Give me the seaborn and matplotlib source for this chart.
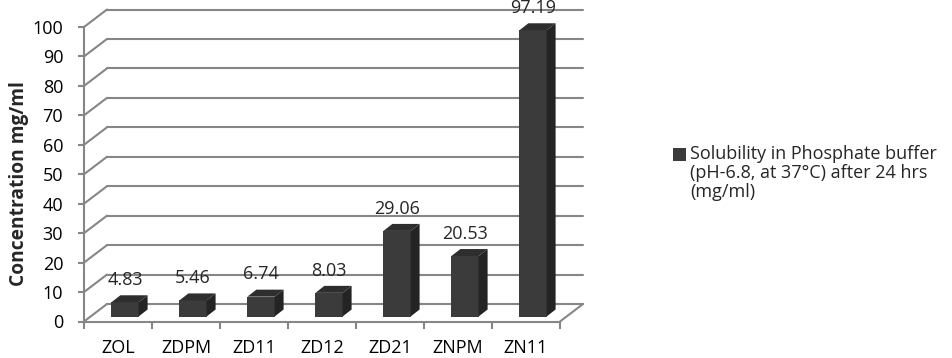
import matplotlib
matplotlib.use("Agg")
import matplotlib.pyplot as plt
import seaborn as sns
import pandas as pd
from matplotlib.patches import Polygon, ConnectionPatch

samples = ["ZOL", "ZDPM", "ZD11", "ZD12", "ZD21", "ZNPM", "ZN11"]
solubility = [4.83, 5.46, 6.74, 8.03, 29.06, 20.53, 97.19]
series_label = "Solubility in Phosphate buffer\n(pH-6.8, at 37°C) after 24 hrs\n(mg/ml)"
y_ticks = list(range(0, 101, 10))

W, H = 953, 358
GRID = "#868686"
FRONT = "#3b3b3b"
SIDE = "#242424"
TOP = "#2e2e2e"

sns.set_theme(style="white")
plt.rcParams["font.family"] = ["Open Sans", "DejaVu Sans"]

fig = plt.figure(figsize=(W / 100, H / 100), dpi=100)


def box(left, base_y, width, height):
    # pixel box -> figure fraction (base_y measured from the top)
    return [left / W, (H - base_y) / H, width / W, height / H]


# fake 3D: back wall, front frame and the plane the bars stand in
ax_back = fig.add_axes(box(107, 304, 476, 294.5))
ax_front = fig.add_axes(box(84, 321.5, 476, 294.5))
ax = fig.add_axes(box(91, 316.5, 476, 294.5))

for a in (ax_back, ax_front, ax):
    a.set_xlim(-0.5, len(samples) - 0.5)
    a.set_ylim(0, 100)
    a.patch.set_visible(False)

# back wall gridlines
for y in y_ticks:
    ax_back.axhline(y, color=GRID, lw=1.5, clip_on=False)
ax_back.set_axis_off()

# side wall / floor diagonals
for y in y_ticks:
    con = ConnectionPatch((-0.5, y), (-0.5, y), coordsA=ax_front.transData,
                          coordsB=ax_back.transData, color=GRID, lw=1.5)
    fig.add_artist(con)
x_end = len(samples) - 0.5
fig.add_artist(ConnectionPatch((x_end, 0), (x_end, 0), coordsA=ax_front.transData,
                               coordsB=ax_back.transData, color=GRID, lw=1.5))

# front frame with the real axis ticks
for side in ("top", "right"):
    ax_front.spines[side].set_visible(False)
for side in ("left", "bottom"):
    ax_front.spines[side].set_color(GRID)
    ax_front.spines[side].set_linewidth(1.5)
ax_front.set_yticks(y_ticks)
ax_front.set_xticks(range(len(samples)))
ax_front.set_xticklabels(samples)
ax_front.set_xticks([i - 0.5 for i in range(len(samples) + 1)], minor=True)
ax_front.tick_params(axis="y", direction="out", length=4.5, width=1.5, color=GRID,
                     pad=10.5, labelsize=13, labelcolor="black", left=True)
ax_front.tick_params(axis="x", which="major", length=0, pad=12.5, labelsize=13,
                     labelcolor="black")
ax_front.tick_params(axis="x", which="minor", direction="out", length=5, width=1.5,
                     color=GRID, bottom=True)
ax_front.set_ylabel("Concentration mg/ml", fontsize=13.8, fontweight="bold")
ax_front.yaxis.label.set_va("center")
ax_front.yaxis.set_label_coords(-0.1366, 0.467)

# bars
df = pd.DataFrame({"Sample": samples, "Solubility": solubility})
sns.barplot(data=df, x="Sample", y="Solubility", ax=ax, color=FRONT,
            saturation=1, width=0.4, edgecolor="none")
ax.set_xlim(-0.5, len(samples) - 0.5)
ax.set_ylim(0, 100)
ax.set_axis_off()

dx = 9 / 476 * len(samples)
dy = 7 / 294.5 * 100
for p in list(ax.patches):
    x0, w, h = p.get_x(), p.get_width(), p.get_height()
    ax.add_patch(Polygon([(x0 + w, 0), (x0 + w + dx, dy), (x0 + w + dx, h + dy), (x0 + w, h)],
                         closed=True, facecolor=SIDE, edgecolor="none", clip_on=False))
    ax.add_patch(Polygon([(x0, h), (x0 + dx, h + dy), (x0 + w + dx, h + dy), (x0 + w, h)],
                         closed=True, facecolor=TOP, edgecolor="none", clip_on=False))
    ax.annotate(f"{h:.2f}", (x0 + w / 2, h), xytext=(0, 16), textcoords="offset points",
                ha="center", va="center", fontsize=13, annotation_clip=False)

leg = fig.legend(handles=[ax.patches[0]], labels=[series_label], loc="center left",
                 bbox_to_anchor=(673 / W, 1 - 173 / H), frameon=False, fontsize=13,
                 handlelength=0.7, handleheight=0.7, handletextpad=0.25,
                 borderpad=0, borderaxespad=0, labelspacing=0)
leg.get_texts()[0].set_linespacing(1.05)
handle = leg.legend_handles[0]
handle.set_y(handle.get_y() + 14)

fig.savefig("out.png", dpi=100)
